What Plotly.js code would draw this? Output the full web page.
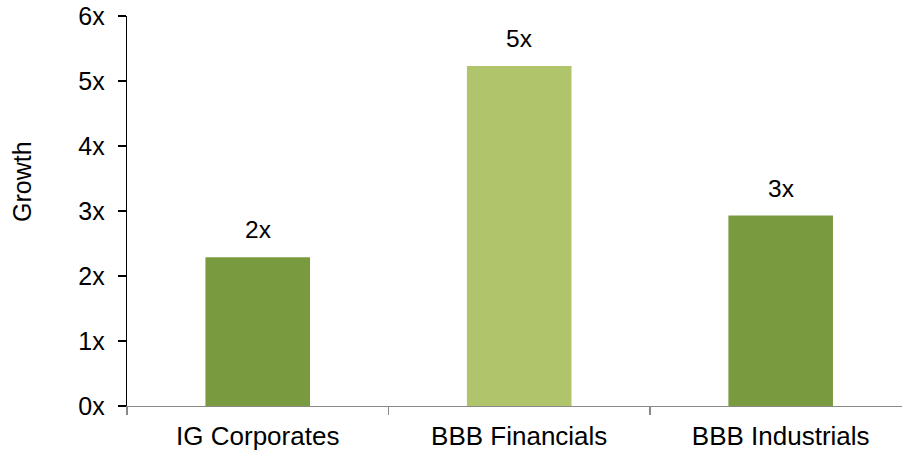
<!DOCTYPE html>
<html>
<head>
<meta charset="utf-8">
<script src="https://cdn.plot.ly/plotly-3.0.1.min.js"></script>
<style>html,body{margin:0;padding:0;background:#fff;}#chart{width:902px;height:451px;}</style>
</head>
<body>
<div id="chart"></div>
<script>
const categories = ["IG Corporates", "BBB Financials", "BBB Industrials"];
const growthValues = [2.29, 5.23, 2.93];
const valueLabels = ["2x", "5x", "3x"];
const barColors = ["#7A9A3F", "#B0C46B", "#7A9A3F"];
const yTickVals = [0, 1, 2, 3, 4, 5, 6];
const yTickText = ["0x", "1x", "2x", "3x", "4x", "5x", "6x"];
const yTitle = "Growth";

const FONT = "Arial, 'Liberation Sans', sans-serif";

const trace = {
  type: "bar",
  x: categories,
  y: growthValues,
  marker: {color: barColors},
  hoverinfo: "none"
};

const annotations = categories.map((c, i) => ({
  x: c, y: growthValues[i], xref: "x", yref: "y",
  text: valueLabels[i], showarrow: false,
  xanchor: "center", yanchor: "bottom", yshift: 12,
  font: {family: FONT, size: 24.5, color: "#000"}
}));
annotations.push({
  xref: "paper", yref: "paper", x: -0.1355, y: 0.577,
  text: yTitle, textangle: -90, showarrow: false,
  xanchor: "center", yanchor: "middle",
  font: {family: FONT, size: 25, color: "#000"}
});

const layout = {
  width: 902, height: 451,
  margin: {l: 127, r: 0, t: 16, b: 45},
  paper_bgcolor: "#fff", plot_bgcolor: "#fff",
  font: {family: FONT, size: 24, color: "#000"},
  showlegend: false,
  bargap: 0.6,
  xaxis: {
    type: "category",
    range: [-0.5, 2.464],
    showline: true, linecolor: "#898989", linewidth: 1.3,
    ticks: "outside", tickson: "boundaries", ticklen: 8, tickcolor: "#898989", tickwidth: 1.3,
    showgrid: false, zeroline: false,
    tickfont: {family: FONT, size: 26, color: "#000"},
    ticklabelstandoff: 6
  },
  yaxis: {
    range: [0, 6],
    tickvals: yTickVals, ticktext: yTickText,
    showline: true, linecolor: "#000", linewidth: 1.3,
    ticks: "outside", ticklen: 8, tickcolor: "#000", tickwidth: 1.3,
    showgrid: false, zeroline: false,
    tickfont: {family: FONT, size: 25, color: "#000"},
    ticklabelstandoff: 8
  },
  annotations: annotations
};

Plotly.newPlot("chart", [trace], layout, {staticPlot: true, displayModeBar: false});
</script>
</body>
</html>
